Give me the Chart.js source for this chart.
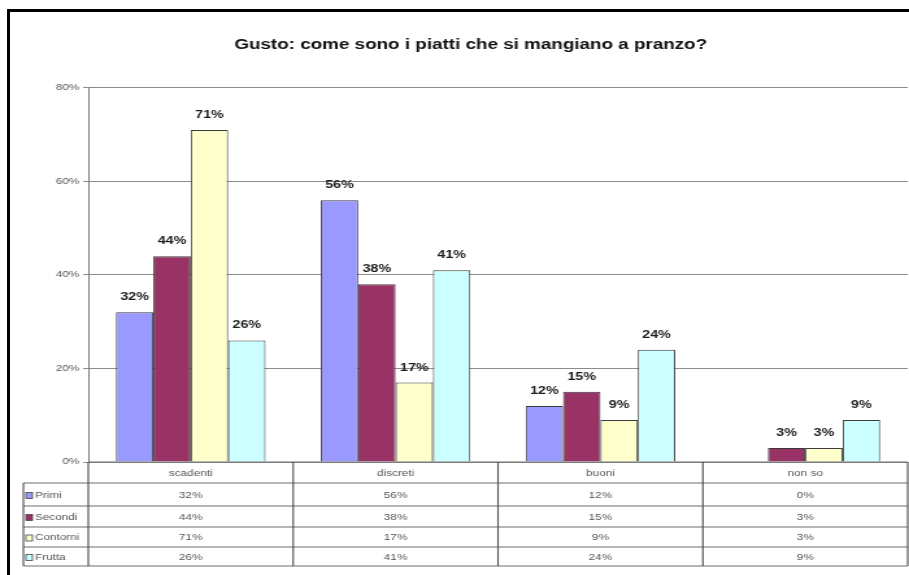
<!DOCTYPE html>
<html>
<head>
<meta charset="utf-8">
<script src="https://cdn.jsdelivr.net/npm/chart.js@4/dist/chart.umd.min.js"></script>
<style>
  html, body { margin: 0; padding: 0; background: #fff; }
  #wrap { position: relative; width: 909px; height: 575px; overflow: hidden; background: #fff; }
  #c { position: absolute; left: 0; top: 0; }
  #frame { position: absolute; left: 7px; top: 9px; width: 930px; height: 600px;
           border-left: 3px solid #000; border-top: 3px solid #000; }
</style>
</head>
<body>
<div id="wrap">
  <!-- drawn narrow and widened by CSS, giving the wide lettering of the sheet -->
  <canvas id="c" width="700" height="575" style="width:909px;height:575px"></canvas>
  <div id="frame"></div>
</div>
<script>
// Survey answers, percentage of pupils per answer
const categories = ['scadenti', 'discreti', 'buoni', 'non so'];
const seriesNames = ['Primi', 'Secondi', 'Contorni', 'Frutta'];
const primi    = [32, 56, 12, 0];
const secondi  = [44, 38, 15, 3];
const contorni = [71, 17, 9, 3];
const frutta   = [26, 41, 24, 9];
const yTicks   = [0, 20, 40, 60, 80];

const seriesColors = ['#9999FF', '#993366', '#FFFFCC', '#CCFFFF'];
const FONT = "'Liberation Sans', Arial, sans-serif";

const seriesValues = [primi, secondi, contorni, frutta];

// value labels above each non-empty bar
const valueLabels = {
  id: 'valueLabels',
  afterDatasetsDraw(chart) {
    const ctx = chart.ctx;
    ctx.save();
    ctx.font = 'bold 11px ' + FONT;
    ctx.fillStyle = '#1a1a1a';
    ctx.textAlign = 'center';
    ctx.textBaseline = 'middle';
    chart.data.datasets.forEach((ds, di) => {
      const meta = chart.getDatasetMeta(di);
      meta.data.forEach((bar, i) => {
        const v = ds.data[i];
        if (!v) return;
        ctx.fillText(v + '%', bar.x, bar.y - 15);
      });
    });
    ctx.restore();
  }
};

// data table under the plot: category header, one row per series with its key
const dataTable = {
  id: 'dataTable',
  afterDraw(chart) {
    const ctx = chart.ctx;
    const area = chart.chartArea;
    const xs = chart.scales.x;
    const n = categories.length;
    const cw = (area.right - area.left) / n;
    const top = area.bottom;
    const rows = [top, top + 21, top + 44, top + 65, top + 85, top + 104];
    const legendLeft = 18;

    ctx.save();
    // horizontal rules
    ctx.strokeStyle = '#6e6e6e';
    ctx.lineWidth = 1.2;
    ctx.beginPath();
    ctx.moveTo(area.left, rows[0]);
    ctx.lineTo(area.right, rows[0]);
    for (let r = 1; r < rows.length; r++) {
      ctx.moveTo(legendLeft, rows[r]);
      ctx.lineTo(area.right, rows[r]);
    }
    ctx.stroke();

    // vertical rules
    ctx.strokeStyle = '#4a4a4a';
    ctx.lineWidth = 1.1;
    ctx.beginPath();
    ctx.moveTo(legendLeft, rows[1]);
    ctx.lineTo(legendLeft, rows[rows.length - 1]);
    for (let i = 0; i <= n; i++) {
      const bx = area.left + i * cw;
      ctx.moveTo(bx, rows[0]);
      ctx.lineTo(bx, rows[rows.length - 1]);
    }
    ctx.stroke();

    // header
    ctx.font = '9px ' + FONT;
    ctx.fillStyle = '#555';
    ctx.textAlign = 'center';
    ctx.textBaseline = 'middle';
    categories.forEach((c, i) => {
      ctx.fillText(c, xs.getPixelForValue(i), (rows[0] + rows[1]) / 2 + 1);
    });

    // series rows
    seriesNames.forEach((name, s) => {
      const yMid = (rows[s + 1] + rows[s + 2]) / 2 + 1;
      ctx.fillStyle = seriesColors[s];
      ctx.strokeStyle = '#444';
      ctx.lineWidth = 0.8;
      ctx.fillRect(20, yMid - 3, 5, 6);
      ctx.strokeRect(20, yMid - 3, 5, 6);
      ctx.fillStyle = '#555';
      ctx.textAlign = 'left';
      ctx.fillText(name, 27, yMid);
      ctx.textAlign = 'center';
      seriesValues[s].forEach((v, i) => {
        ctx.fillText(v + '%', xs.getPixelForValue(i), yMid);
      });
    });
    ctx.restore();
  }
};

new Chart(document.getElementById('c'), {
  type: 'bar',
  data: {
    labels: categories,
    datasets: seriesNames.map((name, s) => ({
      label: name,
      data: seriesValues[s],
      backgroundColor: seriesColors[s],
      borderColor: '#3a3a3a',
      borderWidth: 1,
      categoryPercentage: 0.73,
      barPercentage: 1
    }))
  },
  options: {
    responsive: false,
    animation: false,
    devicePixelRatio: 1,
    layout: { padding: { left: 26, right: 1, top: 0, bottom: 113 } },
    plugins: {
      legend: { display: false },
      tooltip: { enabled: false },
      title: {
        display: true,
        text: 'Gusto: come sono i piatti che si mangiano a pranzo?',
        color: '#111',
        font: { family: FONT, size: 14.5, weight: 'bold' },
        padding: { top: 36, bottom: 34.5 }
      }
    },
    scales: {
      x: { display: false },
      y: {
        min: 0,
        max: 80,
        afterFit(scale) { scale.width = 42; },
        afterBuildTicks(scale) { scale.ticks = yTicks.map(v => ({ value: v })); },
        ticks: {
          color: '#555',
          padding: 3,
          font: { family: FONT, size: 9 },
          callback: v => v + '%'
        },
        grid: { color: '#8c8c8c', lineWidth: 1, tickLength: 4 },
        border: { color: '#7a7a7a', width: 1 }
      }
    }
  },
  plugins: [valueLabels, dataTable]
});
</script>
</body>
</html>
